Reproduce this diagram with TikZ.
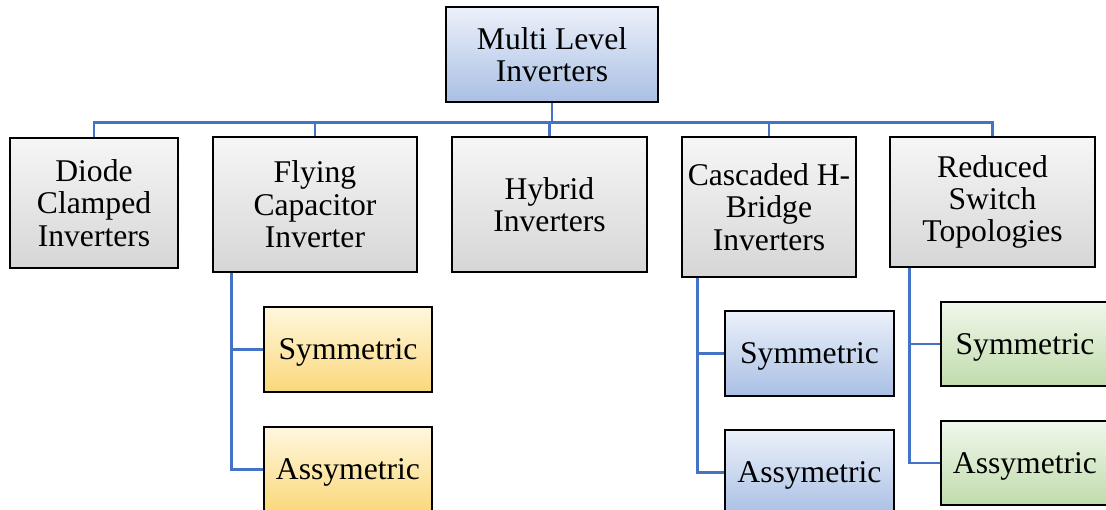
\documentclass[tikz,border=0pt]{standalone}
\usepackage{fontspec}
\setmainfont{Liberation Serif}
\usetikzlibrary{positioning,calc,shadows}
\definecolor{linkblue}{HTML}{4472C4}
\definecolor{greytop}{HTML}{F6F6F6}
\definecolor{greybot}{HTML}{D6D6D6}
\definecolor{bluetop}{HTML}{ECF1FA}
\definecolor{bluebot}{HTML}{A9BFE4}
\definecolor{yeltop}{HTML}{FFF7DE}
\definecolor{yelbot}{HTML}{FAD87A}
\definecolor{grntop}{HTML}{F0F7EB}
\definecolor{grnbot}{HTML}{C0DCAC}
\tikzset{dbox/.style={draw=black, line width=1.3pt, align=center, inner sep=2pt, font=\fontsize{18}{18.4}\selectfont, drop shadow={shadow xshift=0.7pt, shadow yshift=-0.7pt, fill=black!30}}}
\tikzset{dgrey/.style={dbox, top color=greytop, bottom color=greybot}}
\tikzset{dblue/.style={dbox, top color=bluetop, bottom color=bluebot}}
\tikzset{dyel/.style={dbox, top color=yeltop, bottom color=yelbot}}
\tikzset{dgrn/.style={dbox, top color=grntop, bottom color=grnbot}}
\tikzset{dsub/.style={text depth=0pt}}
\tikzset{dlink/.style={draw=linkblue, line width=1.6pt}}

\begin{document}
\begin{tikzpicture}[x=0.02cm, y=-0.02cm]
	\useasboundingbox (0,0) rectangle (1106,510);
	\clip (0,0) rectangle (1106,510);
%
	\node[dblue, minimum width=4.24cm, minimum height=1.9cm] (MLI) at (552,54.5) {Multi Level\\Inverters};
%
	\node[dgrey, minimum width=3.36cm, minimum height=2.6cm] (DC) at (94,203) {Diode\\Clamped\\Inverters};
	\node[dgrey, minimum width=4.08cm, minimum height=2.7cm] (FC) at (315,204.5) {Flying\\Capacitor\\Inverter};
	\node[dgrey, minimum width=3.9cm, minimum height=2.7cm] (HY) at (549.5,204.5) {Hybrid\\Inverters};
	\node[dgrey, minimum width=3.48cm, minimum height=2.8cm] (CHB) at (769,207) {Cascaded H-\\Bridge\\Inverters};
	\node[dgrey, minimum width=4.1cm, minimum height=2.6cm] (RS) at (992.5,202) {Reduced\\Switch\\Topologies};
%
	\node[dyel, dsub, minimum width=3.36cm, minimum height=1.7cm] (FCs) at (348,349.5) {Symmetric};
	\node[dyel, dsub, minimum width=3.36cm, minimum height=1.7cm] (FCa) at (348,469.5) {Assymetric};
	\node[dblue, dsub, minimum width=3.38cm, minimum height=1.7cm] (CHBs) at (809.5,353.5) {Symmetric};
	\node[dblue, dsub, minimum width=3.38cm, minimum height=1.7cm] (CHBa) at (809.5,472.5) {Assymetric};
	\node[dgrn, dsub, minimum width=3.36cm, minimum height=1.68cm] (RSs) at (1025,344) {Symmetric};
	\node[dgrn, dsub, minimum width=3.36cm, minimum height=1.68cm] (RSa) at (1025,463) {Assymetric};
%
	\foreach \kid in {DC,FC,HY,CHB,RS}
		\draw[dlink] (MLI.south) -- ++(0,19) -| (\kid.north);
%
	\draw[dlink] ([xshift=0.4cm]FC.south west) |- (FCs.west);
	\draw[dlink] ([xshift=0.4cm]FC.south west) |- (FCa.west);
	\draw[dlink] ([xshift=0.34cm]CHB.south west) |- (CHBs.west);
	\draw[dlink] ([xshift=0.34cm]CHB.south west) |- (CHBa.west);
	\draw[dlink] ([xshift=0.42cm]RS.south west) |- (RSs.west);
	\draw[dlink] ([xshift=0.42cm]RS.south west) |- (RSa.west);
\end{tikzpicture}
\end{document}
